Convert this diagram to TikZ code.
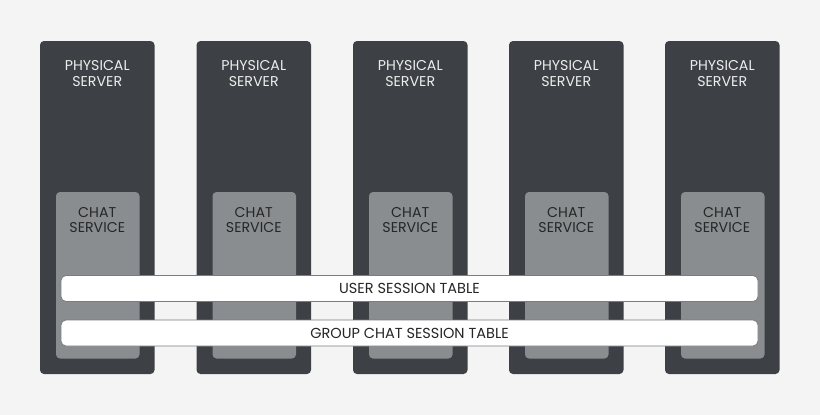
\documentclass[tikz,border=0pt]{standalone}
\usepackage{fontspec}
\setmainfont{Poppins}
\definecolor{bg}{HTML}{F4F4F4}
\definecolor{srv}{HTML}{3D4044}
\definecolor{chat}{HTML}{8A8D90}
\definecolor{srvtxt}{HTML}{EDEDED}
\definecolor{chattxt}{HTML}{262626}
\definecolor{tabborder}{HTML}{7A7C7E}
\begin{document}
\begin{tikzpicture}[x=1pt,y=-1pt,
  server/.style={fill=srv,rounded corners=4pt},
  chatbox/.style={fill=chat,rounded corners=4pt},
  tablebox/.style={fill=white,draw=tabborder,line width=0.8pt,rounded corners=5pt},
  srvlabel/.style={text=srvtxt,font=\fontsize{14.2}{15.5}\selectfont,align=center,inner sep=0pt},
  chatlabel/.style={text=chattxt,font=\fontsize{14.2}{15.5}\selectfont,align=center,inner sep=0pt},
  tablabel/.style={text=chattxt,font=\fontsize{14.5}{15}\selectfont,inner sep=0pt}]
\fill[bg] (0,0) rectangle (820,415);
\useasboundingbox (0,0) rectangle (820,415);
\foreach \i/\x in {1/40,2/196.5,3/353,4/509,5/665}{
  \path[server] (\x,41) rectangle ++(114.5,333);
  \node[name=srv\i] at (\x+57.25,207.5) {};
  \node[srvlabel] (srvlab\i) at (\x+57.25,73.5) {PHYSICAL\\SERVER};
  \path[chatbox] (\x+16,192) rectangle ++(83.5,166.5);
  \node[chatlabel] (chatlab\i) at (\x+57.25,220) {CHAT\\SERVICE};
}
\node[tablebox,minimum width=697pt,minimum height=26pt,inner sep=0pt] (ust) at (409.5,288.5) {};
\node[tablabel] (ustlab) at (ust.center) {USER SESSION TABLE};
\node[tablebox,minimum width=697pt,minimum height=26pt,inner sep=0pt] (gcst) at (409.5,333) {};
\node[tablabel] (gcstlab) at (gcst.center) {GROUP CHAT SESSION TABLE};
\end{tikzpicture}
\end{document}
